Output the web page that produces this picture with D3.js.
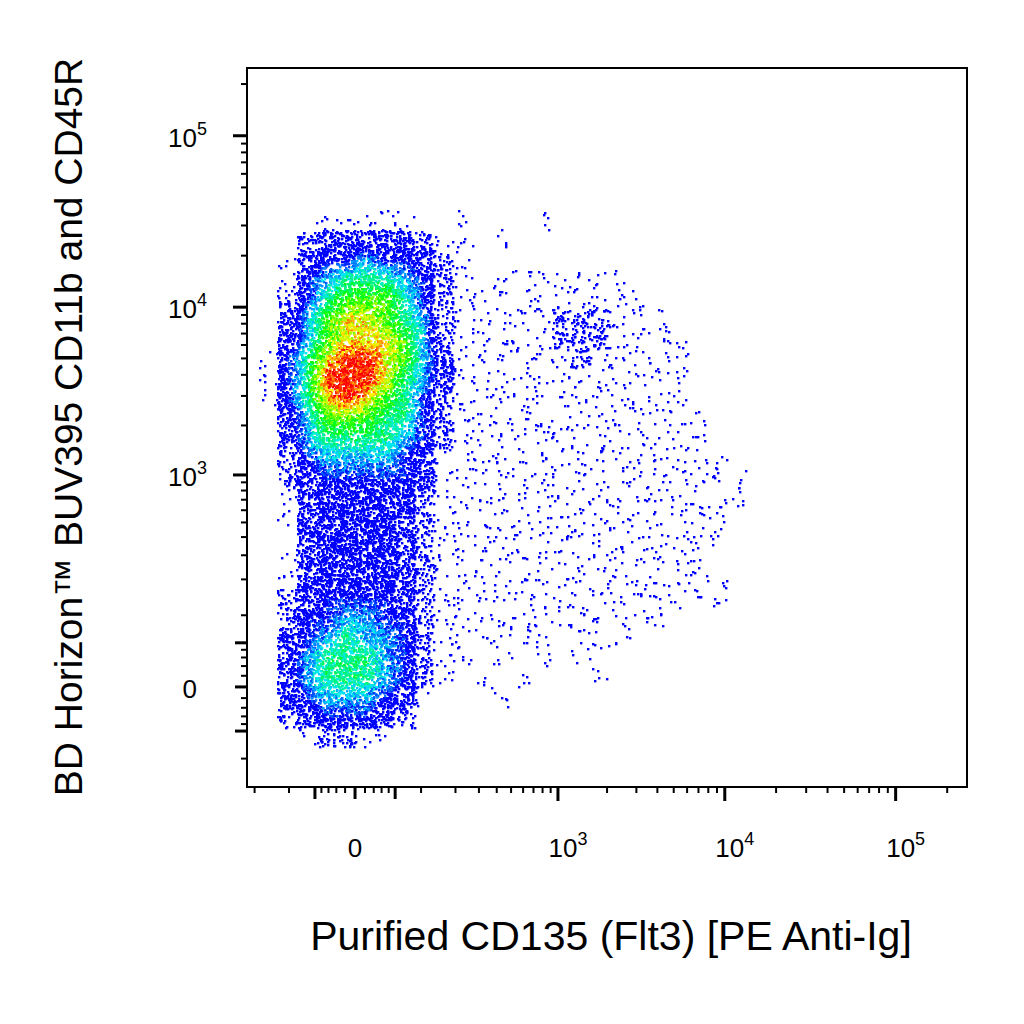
<!DOCTYPE html>
<html><head><meta charset="utf-8">
<script src="https://cdn.jsdelivr.net/npm/d3@7"></script>
<style>body{margin:0;background:#fff}</style></head>
<body><svg id="c" width="1024" height="1024"></svg>
<script>
// density grid (levels 0-9), columns/rows are bins in symlog units
const xBinStart = -1.314;
const xBinW = 0.2628;
const yBinTop = 6.40;
const yBinH = 0.2668;
const densityRows = [
"0001111100100010000000000",
"0023333321101000000000000",
"0134454432100000000000000",
"0145666542101111111000000",
"0246777642111111111100000",
"0357887652111112221110000",
"0357888752111112221111000",
"1468998753111111211111000",
"1469998653111111111111000",
"1468987642111111111111000",
"0357776642111111111111100",
"0356666542111111111111100",
"0245555431111111111111110",
"0234444431111111111111111",
"0134444421111111111111111",
"0134444321111111111111110",
"0034444321111111111111110",
"0134444321111111111111100",
"0134444321111111111111110",
"0234444321111111111111110",
"0244554421111111111110000",
"0345655421111110111000000",
"0356665421101010100000000",
"0356665421010100010000000",
"0345554310001000000000000",
"0234443200000000000000000",
"0012211000000000000000000",
"0000000000000000000000000"
];
const xMajor = [0, 1e3, 1e4, 1e5];
const yMajor = [0, 1e3, 1e4, 1e5];
const xLabel = "Purified CD135 (Flt3) [PE Anti-Ig]";
const yLabel = "BD Horizon™ BUV395 CD11b and CD45R";

const svg = d3.select("#c");
const L=247,R=967,T=68,B=787;
const CX=70, CY=62;
const x = d3.scaleSymlog().constant(CX).domain([-229, 2.61e5]).range([L,R]);
const y = d3.scaleSymlog().constant(CY).domain([-175, 2.48e5]).range([B,T]);
const inv = (t,c)=>Math.sign(t)*c*(Math.exp(Math.abs(t))-1);

const grid = densityRows.map(r=>r.split("").map(Number));
const nR = grid.length, nC = grid[0].length;
function levelAt(fc,fr){
  fc-=0.5; fr-=0.5;
  const c0=Math.floor(fc), r0=Math.floor(fr), dc=fc-c0, dr=fr-r0;
  const g=(r,c)=> (r<0||c<0||r>=nR||c>=nC)?0:grid[r][c];
  return g(r0,c0)*(1-dc)*(1-dr)+g(r0,c0+1)*dc*(1-dr)+g(r0+1,c0)*(1-dc)*dr+g(r0+1,c0+1)*dc*dr;
}
const color = d3.scaleLinear().domain([0,4,5.3,6.8,8,9])
  .range(["#0000ff","#0000ff","#00e8ff","#00ff00","#ffff00","#ff0000"]).clamp(true);
const counts=[0,5,30,65,95,105,115,125,135,145];
const hash=n=>{const s=Math.sin(n*12.9898+78.233)*43758.5453;return s-Math.floor(s);};
const dots=[];
let k=0;
grid.forEach((row,r)=>row.forEach((lv,c)=>{
  const n=counts[lv];
  for(let i=0;i<n;i++){
    k++;
    const fc=c+hash(k*3+1), fr=r+hash(k*7+2);
    const tx=xBinStart+fc*xBinW, ty=yBinTop-fr*yBinH;
    dots.push({vx:inv(tx,CX), vy:inv(ty,CY), lv:levelAt(fc,fr), h:hash(k*11+5)});
  }
}));
svg.append("g").selectAll("rect").data(dots).join("rect")
  .attr("x",d=>Math.round(x(d.vx))).attr("y",d=>Math.round(y(d.vy)))
  .attr("width",2.4).attr("height",2.4)
  .attr("fill",d=>color(d.lv+(d.lv>4?(d.h-0.5)*1.2:0)));

svg.append("rect").attr("x",L).attr("y",T).attr("width",R-L).attr("height",B-T)
  .attr("fill","none").attr("stroke","#000").attr("stroke-width",2);

// ticks
function tickVals(){
  const v=[];
  for(let t=-50;t<=50;t+=10) v.push({v:t,m:(t%50===0)?1:0});
  v.push({v:-100,m:0},{v:-200,m:0});
  for(let e=2;e<=5;e++) for(let m=1;m<=9;m++){
    const val=m*Math.pow(10,e); if(val<2.4e5) v.push({v:val,m:(m===1&&e>=3)?2:0});
  }
  return v;
}
const tv=tickVals();
const tg=svg.append("g").attr("stroke","#000");
tv.forEach(d=>{
  const len=d.m===2?14:(d.m===1?12:6), w=d.m>0?3:2;
  const px=x(d.v); if(px>L+3&&px<R-3)
    tg.append("line").attr("x1",px).attr("x2",px).attr("y1",B).attr("y2",B+len).attr("stroke-width",w);
  const py=y(d.v); if(py>T+3&&py<B-3)
    tg.append("line").attr("y1",py).attr("y2",py).attr("x1",L).attr("x2",L-len).attr("stroke-width",w);
});
const fam="'Liberation Sans', Arial, sans-serif";
function lab(g,v){
  if(v===0){g.append("tspan").text("0");return;}
  g.append("tspan").text("10");
  g.append("tspan").attr("dy",-12).attr("font-size",18).text(Math.round(Math.log10(v)));
}
xMajor.forEach(v=>{
  const t=svg.append("text").attr("x",x(v)+(v?10:0)).attr("y",857).attr("text-anchor","middle")
    .attr("font-family",fam).attr("font-size",26);
  lab(t,v);
});
yMajor.forEach(v=>{
  const t=svg.append("text").attr("x",v?207:197).attr("y",y(v)+11).attr("text-anchor","end")
    .attr("font-family",fam).attr("font-size",26);
  lab(t,v);
});
svg.append("text").attr("x",611).attr("y",950).attr("text-anchor","middle")
  .attr("font-family",fam).attr("font-size",41).text(xLabel);
svg.append("text").attr("transform","translate(82,427) rotate(-90)").attr("text-anchor","middle")
  .attr("font-family",fam).attr("font-size",39).text(yLabel);
</script></body></html>
